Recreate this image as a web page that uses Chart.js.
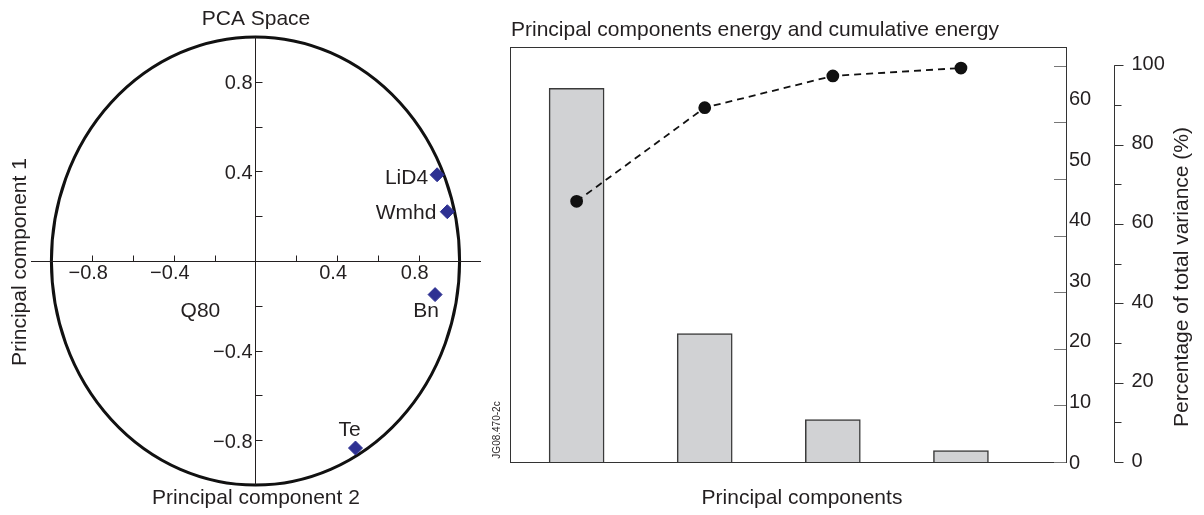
<!DOCTYPE html>
<html>
<head>
<meta charset="utf-8">
<script src="https://cdn.jsdelivr.net/npm/chart.js@4.4.1/dist/chart.umd.min.js"></script>
<style>
  body { margin: 0; background: #fff; }
  #wrap { position: relative; width: 1204px; height: 515px; }
  canvas { position: absolute; top: 0; }
  #pca { left: 0; }
  #energy { left: 485px; }
</style>
</head>
<body>
<div id="wrap">
  <canvas id="pca" width="500" height="515"></canvas>
  <canvas id="energy" width="719" height="515"></canvas>
</div>
<script>
// PCA space: loadings on principal component 2 (x) and 1 (y)
const pcaNames = ['LiD4', 'Wmhd', 'Bn', 'Te', 'Q80'];
const pc2 = [0.89, 0.94, 0.88, 0.49, -0.27];
const pc1 = [0.385, 0.22, -0.15, -0.835, -0.225];
const pcaTicks = [-0.8, -0.6, -0.4, -0.2, 0.2, 0.4, 0.6, 0.8];
const pcaTickLabels = [-0.8, -0.4, 0.4, 0.8];

// energy of each principal component and cumulative energy
const components = [1, 2, 3, 4];
const energy = [66, 22.7, 7.5, 2.0];
const cumulative = [65.7, 89.3, 97.3, 99.3];
const energyTicks = [0, 10, 20, 30, 40, 50, 60, 70];
const energyTickLabels = [0, 10, 20, 30, 40, 50, 60];
const varianceTicks = [0, 10, 20, 30, 40, 50, 60, 70, 80, 90, 100];
const varianceTickLabels = [0, 20, 40, 60, 80, 100];

const FONT = "'Liberation Sans', Arial, Helvetica, sans-serif";
const INK = '#231f20';
Chart.defaults.font.family = FONT;
Chart.defaults.color = INK;

const fmt = v => (v < 0 ? '\u2212' : '') + Math.abs(v).toFixed(1);

// where each point name sits relative to its marker
const labelPlace = {
  LiD4: { dx: -9, dy: 3, align: 'right' },
  Wmhd: { dx: -11, dy: 1, align: 'right' },
  Bn: { dx: -9, dy: 17, align: 'center' },
  Te: { dx: -6, dy: -18, align: 'center' },
  Q80: { dx: 0, dy: 0, align: 'center' }
};

const pcaFrame = {
  id: 'pcaFrame',
  beforeDatasetsDraw(chart) {
    const { ctx, scales: { x, y } } = chart;
    const x0 = Math.round(x.getPixelForValue(0)) + 0.5;
    const y0 = Math.round(y.getPixelForValue(0)) + 0.5;
    ctx.save();
    // unit circle
    ctx.strokeStyle = '#111';
    ctx.lineWidth = 3;
    ctx.beginPath();
    ctx.ellipse(x.getPixelForValue(0), y.getPixelForValue(0),
      x.getPixelForValue(1) - x.getPixelForValue(0),
      y.getPixelForValue(0) - y.getPixelForValue(1), 0, 0, 2 * Math.PI);
    ctx.stroke();

    // crossing axes with ticks
    ctx.strokeStyle = INK;
    ctx.lineWidth = 1;
    ctx.beginPath();
    ctx.moveTo(x.left, y0); ctx.lineTo(x.right, y0);
    ctx.moveTo(x0, y.top); ctx.lineTo(x0, y.bottom);
    pcaTicks.forEach(v => {
      const px = Math.round(x.getPixelForValue(v)) + 0.5;
      ctx.moveTo(px, y0); ctx.lineTo(px, y0 - 6);
      const py = Math.round(y.getPixelForValue(v)) + 0.5;
      ctx.moveTo(x0, py); ctx.lineTo(x0 + 7, py);
    });
    ctx.stroke();

    ctx.fillStyle = INK;
    ctx.font = '20px ' + FONT;
    ctx.textBaseline = 'middle';
    pcaTickLabels.forEach(v => {
      ctx.textAlign = 'center';
      ctx.fillText(fmt(v), x.getPixelForValue(v) - 4, y0 + 12);
      ctx.textAlign = 'right';
      ctx.fillText(fmt(v), x0 - 3, y.getPixelForValue(v) + 2);
    });

    ctx.font = '21px ' + FONT;
    ctx.textAlign = 'center';
    ctx.fillText('PCA Space', 256, 19);
    ctx.fillText('Principal component 2', 256, 498);
    ctx.translate(20, 262);
    ctx.rotate(-Math.PI / 2);
    ctx.fillText('Principal component 1', 0, 0);
    ctx.restore();
  },
  afterDatasetsDraw(chart) {
    const { ctx } = chart;
    const meta = chart.getDatasetMeta(0);
    ctx.save();
    ctx.fillStyle = INK;
    ctx.font = '21px ' + FONT;
    ctx.textBaseline = 'middle';
    meta.data.forEach((pt, i) => {
      const p = labelPlace[pcaNames[i]];
      ctx.textAlign = p.align;
      ctx.fillText(pcaNames[i], pt.x + p.dx, pt.y + p.dy);
    });
    ctx.restore();
  }
};

new Chart(document.getElementById('pca'), {
  type: 'scatter',
  data: {
    datasets: [{
      label: 'PCA Space',
      data: pc2.map((v, i) => ({ x: v, y: pc1[i] })),
      pointStyle: 'rectRot',
      pointRadius: ctx => pcaNames[ctx.dataIndex] === 'Q80' ? 0 : 7,
      backgroundColor: '#2e3192',
      borderColor: '#2e3192',
      borderWidth: 1
    }]
  },
  options: {
    responsive: false,
    animation: false,
    layout: { padding: { left: 31, right: 19, top: 37, bottom: 30 } },
    scales: {
      x: { type: 'linear', display: false, min: -1.1, max: 1.105 },
      y: { type: 'linear', display: false, min: -1, max: 1 }
    },
    plugins: { legend: { display: false }, tooltip: { enabled: false } }
  },
  plugins: [pcaFrame]
});

const energyFrame = {
  id: 'energyFrame',
  afterDatasetsDraw(chart) {
    const { ctx, chartArea: a, scales } = chart;
    const { yEnergy, yLabel, yPct } = scales;
    ctx.save();
    // plot box
    ctx.strokeStyle = '#333';
    ctx.lineWidth = 1;
    ctx.strokeRect(Math.round(a.left) + 0.5, Math.round(a.top) + 0.5,
      Math.round(a.right - a.left), Math.round(a.bottom - a.top));

    // energy axis: inward ticks on the right edge of the box
    ctx.strokeStyle = '#777';
    ctx.beginPath();
    energyTicks.forEach(v => {
      const py = Math.round(yEnergy.getPixelForValue(v)) + 0.5;
      ctx.moveTo(a.right - 12, py); ctx.lineTo(a.right, py);
    });
    ctx.stroke();
    ctx.fillStyle = INK;
    ctx.font = '20px ' + FONT;
    ctx.textAlign = 'left';
    ctx.textBaseline = 'middle';
    energyTickLabels.forEach(v => {
      ctx.fillText(String(v), a.right + 3, yLabel.getPixelForValue(v) + 1);
    });

    // percentage axis
    const ax = Math.round(a.right + 48) + 0.5;
    ctx.strokeStyle = '#333';
    ctx.beginPath();
    ctx.moveTo(ax, yPct.getPixelForValue(0));
    ctx.lineTo(ax, yPct.getPixelForValue(100));
    varianceTicks.forEach(v => {
      const py = Math.round(yPct.getPixelForValue(v)) + 0.5;
      const len = varianceTickLabels.includes(v) ? 9 : 7;
      ctx.moveTo(ax, py); ctx.lineTo(ax + len, py);
    });
    ctx.stroke();
    varianceTickLabels.forEach(v => {
      ctx.fillText(String(v), ax + 17, yPct.getPixelForValue(v) - 1);
    });

    // titles
    ctx.font = '21px ' + FONT;
    ctx.fillText('Principal components energy and cumulative energy', a.left + 1, 30);
    ctx.textAlign = 'center';
    ctx.fillText('Principal components', 317, 498);
    ctx.save();
    ctx.translate(697, 277);
    ctx.rotate(-Math.PI / 2);
    ctx.fillText('Percentage of total variance (%)', 0, 0);
    ctx.restore();
    ctx.font = '10px ' + FONT;
    ctx.translate(12, 430);
    ctx.rotate(-Math.PI / 2);
    ctx.fillText('JG08.470-2c', 0, 0);
    ctx.restore();
  }
};

new Chart(document.getElementById('energy'), {
  data: {
    datasets: [{
      type: 'line',
      label: 'Cumulative energy',
      data: components.map((c, i) => ({ x: c, y: cumulative[i] })),
      yAxisID: 'yPct',
      order: 0,
      borderColor: '#111',
      borderWidth: 1.8,
      borderDash: [7, 5],
      pointRadius: 5.5,
      pointBackgroundColor: '#111',
      pointBorderColor: '#111',
      tension: 0
    }, {
      type: 'bar',
      label: 'Energy',
      data: components.map((c, i) => ({ x: c, y: energy[i] })),
      yAxisID: 'yEnergy',
      order: 1,
      backgroundColor: '#d1d2d4',
      borderColor: '#3a3a3a',
      borderWidth: 1.5,
      barThickness: 55
    }]
  },
  options: {
    responsive: false,
    animation: false,
    layout: { padding: { left: 25, right: 138, top: 47, bottom: 53 } },
    scales: {
      x: { type: 'linear', display: false, offset: false, min: 0.48, max: 4.82 },
      yEnergy: { type: 'linear', position: 'right', display: false, min: 0, max: 73.3 },
      yLabel: { type: 'linear', position: 'right', display: false, min: 0, max: 68.5 },
      yPct: { type: 'linear', position: 'right', display: false, min: 0, max: 104.6 }
    },
    plugins: { legend: { display: false }, tooltip: { enabled: false } }
  },
  plugins: [energyFrame]
});
</script>
</body>
</html>
